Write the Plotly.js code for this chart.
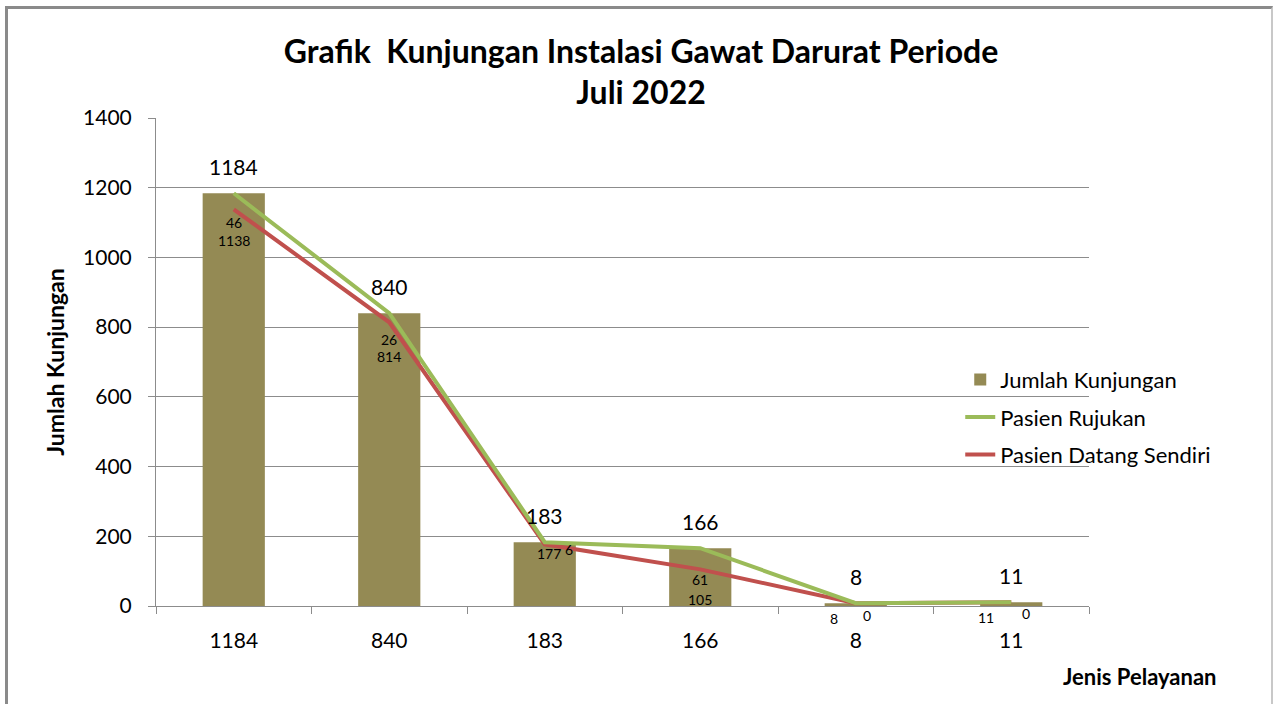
<!DOCTYPE html>
<html>
<head>
<meta charset="utf-8">
<script src="https://cdn.plot.ly/plotly-3.0.1.min.js"></script>
<style>
  html, body { margin: 0; padding: 0; background: #fff; }
  #chart { position: absolute; left: 0; top: 0; width: 1277px; height: 704px; }
  #frame { position: absolute; left: 5px; top: 6px; width: 1268px; height: 720px;
           border-left: 3px solid #8a8a8a; border-top: 3px solid #8a8a8a;
           border-right: 2px solid #c8c8c8; pointer-events: none; box-sizing: border-box; }
</style>
</head>
<body>
<div id="chart"></div>
<div id="frame"></div>
<script>
// ---- data ----
const categories = ["1184", "840", "183", "166", "8", "11"];
const jumlahKunjungan = [1184, 840, 183, 166, 8, 11];
const pasienRujukan = [46, 26, 6, 61, 0, 0];
const pasienDatangSendiri = [1138, 814, 177, 105, 8, 11];
const yTicks = [0, 200, 400, 600, 800, 1000, 1200, 1400];

// stacked line (Excel stacked line): Rujukan stacked on top of Datang Sendiri
const rujukanStacked = pasienDatangSendiri.map((v, i) => v + pasienRujukan[i]);

// label offsets (px) for the line data labels
const rujLabelShift = [[0, -29], [0, -26], [24, -7], [0, -31], [11, -12], [15, -11]];
const dsLabelShift  = [[0, -31], [0, -34], [4, -9], [0, -30], [-22, -15], [-25, -15]];

const FONT = "Lato, 'Open Sans', sans-serif";
const colBar = "#948A54", colGreen = "#9BBB59", colRed = "#C0504D";

const traces = [
  { type: "bar", name: "Jumlah Kunjungan", x: categories, y: jumlahKunjungan,
    marker: { color: colBar, line: { width: 0 } }, width: 0.4, legendgroup: "a", legendrank: 1,
    hoverinfo: "x+y" },
  { type: "scatter", mode: "lines", name: "Pasien Datang Sendiri", x: categories, y: pasienDatangSendiri,
    line: { color: colRed, width: 4 }, legendgroup: "c", legendrank: 3 },
  { type: "scatter", mode: "lines", name: "Pasien Rujukan", x: categories, y: rujukanStacked,
    line: { color: colGreen, width: 4 }, legendgroup: "b", legendrank: 2,
    customdata: pasienRujukan, hovertemplate: "%{customdata}<extra>Pasien Rujukan</extra>" }
];

const annotations = [];
categories.forEach((c, i) => {
  // on a category axis, annotations use the category index
  annotations.push({ x: i, y: jumlahKunjungan[i], xref: "x", yref: "y", text: String(jumlahKunjungan[i]),
    showarrow: false, yanchor: "bottom", yshift: 12, font: { family: FONT, size: 21, color: "#000" } });
  annotations.push({ x: i, y: rujukanStacked[i], xref: "x", yref: "y", text: String(pasienRujukan[i]),
    showarrow: false, xshift: rujLabelShift[i][0], yshift: rujLabelShift[i][1],
    font: { family: FONT, size: 14, color: "#000" } });
  annotations.push({ x: i, y: pasienDatangSendiri[i], xref: "x", yref: "y", text: String(pasienDatangSendiri[i]),
    showarrow: false, xshift: dsLabelShift[i][0], yshift: dsLabelShift[i][1],
    font: { family: FONT, size: 14, color: "#000" } });
});
annotations.push({ x: 1.0547, y: -0.145, xref: "paper", yref: "paper", text: "<b>Jenis Pelayanan</b>",
  showarrow: false, xanchor: "center", yanchor: "middle", font: { family: FONT, size: 22, color: "#000" } });

const layout = {
  width: 1277, height: 704,
  margin: { l: 156, r: 188, t: 118, b: 98 },
  paper_bgcolor: "#fff", plot_bgcolor: "#fff",
  font: { family: FONT, size: 20, color: "#000" },
  title: { text: "<b>Grafik&nbsp; Kunjungan Instalasi Gawat Darurat Periode<br>Juli 2022</b>",
           x: 0.502, xanchor: "center", y: 0.911, yanchor: "middle",
           font: { family: FONT, size: 32, color: "#000" } },
  xaxis: { type: "category", range: [-0.5, 5.5], showline: true, linecolor: "#8c8c8c", linewidth: 1,
           ticks: "outside", tickson: "boundaries", ticklen: 7, tickcolor: "#8c8c8c",
           showgrid: false, zeroline: false, ticklabelstandoff: 16,
           tickfont: { family: FONT, size: 21, color: "#000" } },
  yaxis: { range: [0, 1400], tickvals: yTicks, showline: true, linecolor: "#8c8c8c", linewidth: 1,
           ticks: "outside", ticklen: 7, tickcolor: "#8c8c8c", showgrid: true, gridcolor: "#8c8c8c",
           zeroline: false, ticklabelstandoff: 12,
           tickfont: { family: FONT, size: 21, color: "#000" },
           title: { text: "<b>Jumlah Kunjungan</b>", standoff: 12, font: { family: FONT, size: 23, color: "#000" } } },
  legend: { x: 0.862, xanchor: "left", y: 0.507, yanchor: "top", bgcolor: "rgba(0,0,0,0)",
            traceorder: "grouped", tracegroupgap: 6, font: { family: FONT, size: 22, color: "#000" } },
  annotations: annotations,
  hovermode: "closest"
};

Plotly.newPlot("chart", traces, layout, { displayModeBar: false });
</script>
</body>
</html>
